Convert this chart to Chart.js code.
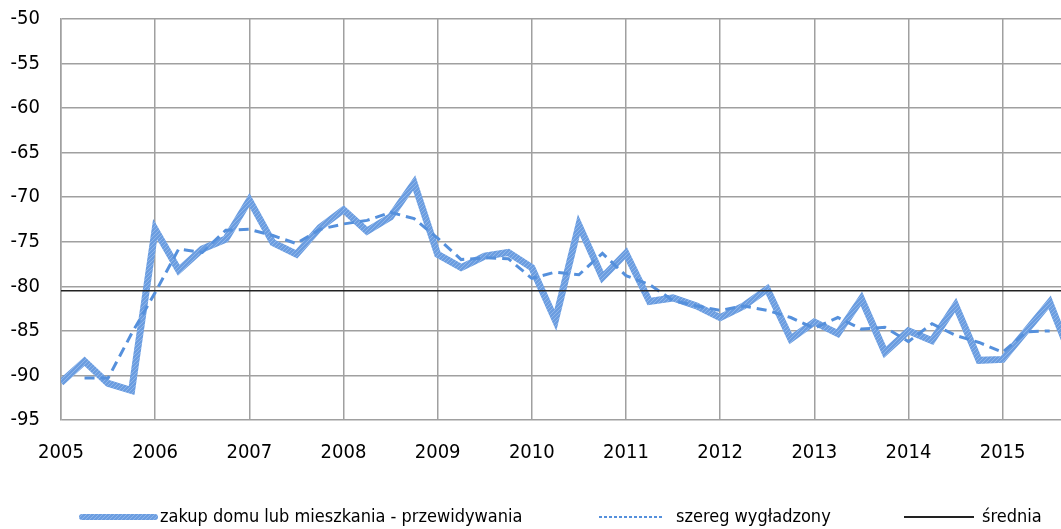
<!DOCTYPE html>
<html>
<head>
<meta charset="utf-8">
<title>zakup domu lub mieszkania - przewidywania</title>
<script src="https://cdn.jsdelivr.net/npm/chart.js@4.4.1/dist/chart.umd.min.js"></script>
<style>
  html, body { margin: 0; padding: 0; background: #fff; }
</style>
</head>
<body>
<canvas id="wykres" width="1061" height="529"></canvas>
<script>
// kwartały 2005 Q1 - 2015 Q4 (oś x w latach)
const kwartaly = [
  2005.00, 2005.25, 2005.50, 2005.75, 2006.00, 2006.25, 2006.50, 2006.75,
  2007.00, 2007.25, 2007.50, 2007.75, 2008.00, 2008.25, 2008.50, 2008.75,
  2009.00, 2009.25, 2009.50, 2009.75, 2010.00, 2010.25, 2010.50, 2010.75,
  2011.00, 2011.25, 2011.50, 2011.75, 2012.00, 2012.25, 2012.50, 2012.75,
  2013.00, 2013.25, 2013.50, 2013.75, 2014.00, 2014.25, 2014.50, 2014.75,
  2015.00, 2015.25, 2015.50, 2015.75
];

const przewidywania = [
  -90.8, -88.4, -90.9, -91.7, -73.6, -78.2, -75.8, -74.7,
  -70.3, -75.1, -76.4, -73.4, -71.4, -73.8, -72.2, -68.4,
  -76.4, -77.9, -76.6, -76.2, -77.9, -83.8, -73.1, -79.0,
  -76.3, -81.7, -81.3, -82.2, -83.5, -82.2, -80.3, -85.9,
  -84.0, -85.3, -81.4, -87.4, -85.0, -86.1, -82.1, -88.3,
  -88.2, -85.0, -81.8, -88.5
];

const wygladzony = [
  null,  -90.3, -90.3, -85.3, -80.7, -75.8, -76.2, -73.7,
  -73.6, -74.3, -75.2, -73.6, -73.0, -72.6, -71.7, -72.4,
  -74.6, -77.0, -76.8, -76.9, -79.1, -78.4, -78.7, -76.3,
  -78.8, -79.8, -81.6, -82.2, -82.7, -82.2, -82.7, -83.5,
  -84.7, -83.5, -84.8, -84.6, -86.2, -84.2, -85.5, -86.3,
  -87.4, -85.1, -85.0, null
];

const srednia = -80.5;

const lataOsi = [2005, 2006, 2007, 2008, 2009, 2010, 2011, 2012, 2013, 2014, 2015];
const osY = [-95, -90, -85, -80, -75, -70, -65, -60, -55, -50];

const nazwy = ['zakup domu lub mieszkania - przewidywania', 'szereg wygładzony', 'średnia'];

const FONT = "Tahoma, 'DejaVu Sans Condensed', 'DejaVu Sans', sans-serif";

// lekko kreskowana tekstura grubej linii
function wzorLinii() {
  const c = document.createElement('canvas');
  c.width = 4; c.height = 4;
  const g = c.getContext('2d');
  g.fillStyle = '#6b9de0';
  g.fillRect(0, 0, 4, 4);
  g.fillStyle = '#8fb6ea';
  [[0, 0], [2, 2], [1, 3], [3, 1]].forEach(([x, y]) => g.fillRect(x, y, 1, 1));
  return g.createPattern(c, 'repeat');
}
const tekstura = wzorLinii();

const punkty = (wartosci) => kwartaly.map((x, i) => ({ x: x, y: wartosci[i] }));

const legendaDolna = {
  id: 'legendaDolna',
  afterDraw(chart) {
    const ctx = chart.ctx;
    const y = 517;
    const pozycje = [
      { x0: 82, x1: 155, tx: 160 },
      { x0: 599, x1: 662, tx: 676 },
      { x0: 904, x1: 974, tx: 982 }
    ];
    ctx.save();
    ctx.font = '18px ' + FONT;
    ctx.textBaseline = 'middle';
    ctx.fillStyle = '#000';
    chart.data.datasets.forEach((ds, i) => {
      const p = pozycje[i];
      ctx.beginPath();
      ctx.strokeStyle = ds.borderColor;
      ctx.lineWidth = i === 0 ? 6 : 2;
      ctx.lineCap = i === 0 ? 'round' : 'butt';
      ctx.setLineDash(i === 1 ? [3, 2] : []);
      ctx.moveTo(p.x0, y);
      ctx.lineTo(p.x1, y);
      ctx.stroke();
      ctx.setLineDash([]);
      ctx.fillText(ds.label, p.tx, y);
    });
    ctx.restore();
  }
};

new Chart(document.getElementById('wykres'), {
  type: 'line',
  data: {
    datasets: [
      {
        label: nazwy[0],
        data: punkty(przewidywania),
        borderColor: tekstura,
        borderWidth: 7,
        pointRadius: 0,
        tension: 0,
        order: 3
      },
      {
        label: nazwy[1],
        data: punkty(wygladzony),
        borderColor: '#5590dc',
        borderWidth: 3,
        borderDash: [10, 6],
        pointRadius: 0,
        tension: 0,
        order: 2
      },
      {
        label: nazwy[2],
        data: [{ x: kwartaly[0], y: srednia }, { x: kwartaly[kwartaly.length - 1], y: srednia }],
        borderColor: '#222',
        borderWidth: 1.6,
        pointRadius: 0,
        order: 1
      }
    ]
  },
  options: {
    responsive: false,
    animation: false,
    layout: { padding: { top: 19, right: 0, bottom: 0, left: 0 } },
    plugins: {
      legend: { display: false },
      tooltip: { enabled: false }
    },
    scales: {
      x: {
        type: 'linear',
        min: 2005,
        max: 2015.62,
        afterBuildTicks: (s) => { s.ticks = lataOsi.map(v => ({ value: v })); },
        afterFit: (s) => { s.height = 109; },
        ticks: {
          font: { family: FONT, size: 20 },
          color: '#000',
          padding: 21,
          maxRotation: 0,
          callback: (v) => String(v)
        },
        grid: { color: '#a0a0a0', lineWidth: 1.5, drawTicks: false },
        border: { display: false }
      },
      y: {
        min: -95,
        max: -50,
        afterBuildTicks: (s) => { s.ticks = osY.map(v => ({ value: v })); },
        afterFit: (s) => { s.width = 61; },
        ticks: {
          font: { family: FONT, size: 20 },
          color: '#000',
          padding: 6
        },
        grid: { color: '#a0a0a0', lineWidth: 1.5, drawTicks: true, tickLength: 15, tickColor: 'rgba(0,0,0,0)' },
        border: { display: true, color: '#a0a0a0', width: 1.5 }
      }
    }
  },
  plugins: [legendaDolna]
});
</script>
</body>
</html>
